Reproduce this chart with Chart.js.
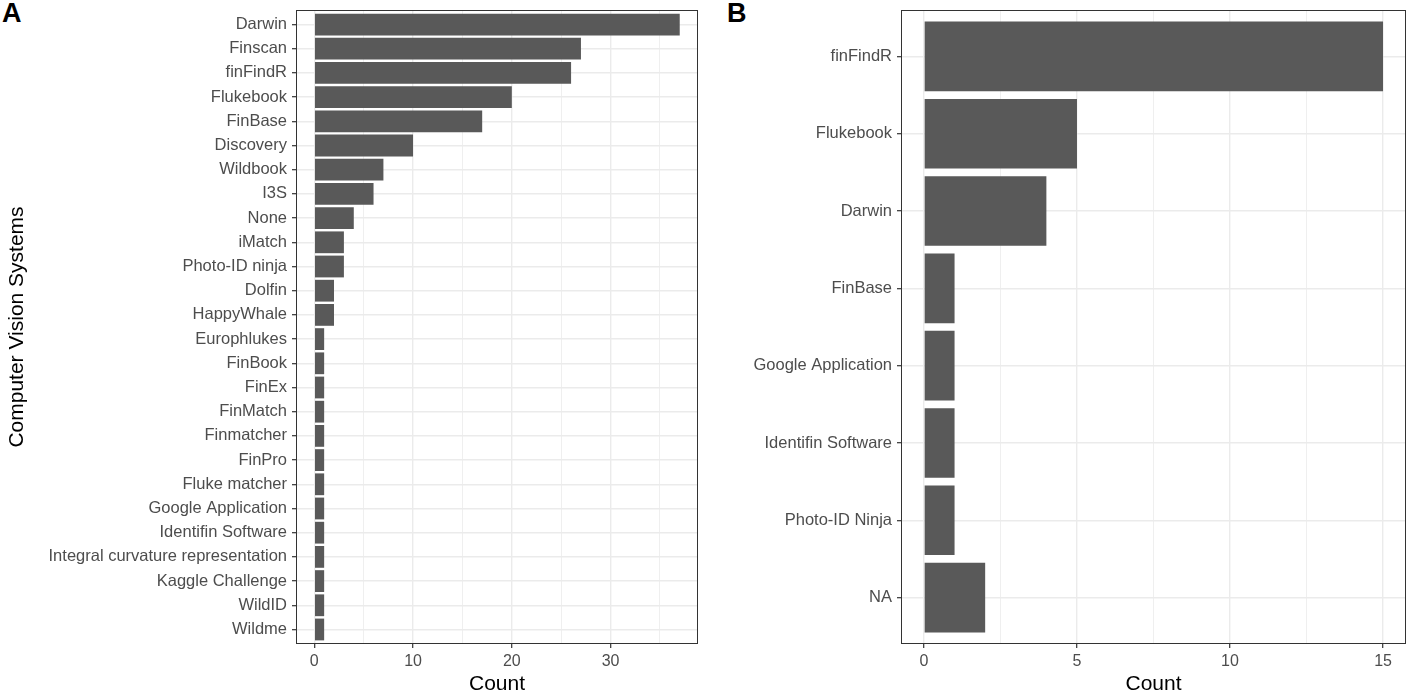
<!DOCTYPE html>
<html>
<head>
<meta charset="utf-8">
<script src="https://cdn.jsdelivr.net/npm/chart.js@4"></script>
<style>
    body { margin: 0; background: #fff; width: 1408px; height: 695px; overflow: hidden; position: relative; }
    .panel { position: absolute; top: 0; height: 695px; }
    #panelA { left: 0; width: 700px; }
    #panelB { left: 700px; width: 708px; }
    .tag { position: absolute; top: 0; font: bold 27px "Liberation Sans", Arial, sans-serif; line-height: 1; color: #000; }
</style>
</head>
<body>
<div class="tag" style="left:2px">A</div>
<div class="tag" style="left:727px">B</div>
<div class="panel" id="panelA"><canvas id="chartA"></canvas></div>
<div class="panel" id="panelB"><canvas id="chartB"></canvas></div>
<script>
// Panel A: all systems mentioned
const systemsA = ['Darwin', 'Finscan', 'finFindR', 'Flukebook', 'FinBase', 'Discovery', 'Wildbook', 'I3S',
    'None', 'iMatch', 'Photo-ID ninja', 'Dolfin', 'HappyWhale', 'Europhlukes', 'FinBook', 'FinEx',
    'FinMatch', 'Finmatcher', 'FinPro', 'Fluke matcher', 'Google Application', 'Identifin Software',
    'Integral curvature representation', 'Kaggle Challenge', 'WildID', 'Wildme'];
const countsA = [37, 27, 26, 20, 17, 10, 7, 6, 4, 3, 3, 2, 2, 1, 1, 1, 1, 1, 1, 1, 1, 1, 1, 1, 1, 1];
const ticksA = [0, 5, 10, 15, 20, 25, 30, 35];
const majorStepA = 10;

// Panel B: systems in use
const systemsB = ['finFindR', 'Flukebook', 'Darwin', 'FinBase', 'Google Application',
    'Identifin Software', 'Photo-ID Ninja', 'NA'];
const countsB = [15, 5, 4, 1, 1, 1, 1, 2];
const ticksB = [0, 2.5, 5, 7.5, 10, 12.5, 15];
const majorStepB = 5;

Chart.defaults.font.family = '"Liberation Sans", Arial, sans-serif';

// panel frame like theme_bw
const frame = {
    id: 'frame',
    afterDraw(chart) {
        const a = chart.chartArea;
        const ctx = chart.ctx;
        ctx.save();
        ctx.strokeStyle = '#333333';
        ctx.lineWidth = 1;
        ctx.strokeRect(Math.round(a.left) + 0.5, Math.round(a.top) + 0.5,
            Math.round(a.right - a.left) - 1, Math.round(a.bottom - a.top) - 1);
        ctx.restore();
    }
};

function makeChart(id, cats, counts, xTicks, majorStep, yWidth, yTitle) {
    const maxVal = Math.max(...counts);
    const pad = maxVal * 0.05;
    const n = cats.length;
    return new Chart(document.getElementById(id), {
        type: 'bar',
        data: {
            datasets: [{
                data: counts.map((v, i) => ({ x: v, y: i })),
                backgroundColor: '#595959',
                borderWidth: 0,
                categoryPercentage: 1,
                barPercentage: 0.9
            }]
        },
        options: {
            indexAxis: 'y',
            responsive: true,
            maintainAspectRatio: false,
            animation: false,
            layout: { padding: { top: 10, right: 2, left: 0, bottom: 0 } },
            plugins: { legend: { display: false }, tooltip: { enabled: false } },
            scales: {
                x: {
                    type: 'linear',
                    min: -pad,
                    max: maxVal + pad,
                    afterBuildTicks: (scale) => { scale.ticks = xTicks.map(v => ({ value: v })); },
                    afterFit: (scale) => {
                        scale.height = 51;
                        scale.paddingLeft = 0;
                        scale.paddingRight = 0;
                    },
                    ticks: {
                        autoSkip: false,
                        maxRotation: 0,
                        color: '#4d4d4d',
                        font: { size: 16 },
                        padding: 4,
                        callback: (v) => (v % majorStep === 0 ? v : '')
                    },
                    grid: {
                        color: '#ebebeb',
                        lineWidth: (c) => (c.tick && c.tick.value % majorStep === 0 ? 1.4 : 0.8),
                        tickColor: (c) => (c.tick && c.tick.value % majorStep === 0 ? '#333333' : 'rgba(0,0,0,0)'),
                        tickLength: 4,
                        tickWidth: 1.2
                    },
                    border: { display: false },
                    title: {
                        display: true,
                        text: 'Count',
                        color: '#000',
                        font: { size: 21, lineHeight: 1 },
                        padding: { top: 0, bottom: 0 }
                    }
                },
                y: {
                    type: 'linear',
                    reverse: true,
                    offset: false,
                    min: -0.6,
                    max: n - 0.4,
                    afterBuildTicks: (scale) => { scale.ticks = cats.map((c, i) => ({ value: i })); },
                    afterFit: (scale) => {
                        scale.width = yWidth;
                        scale.paddingTop = 0;
                        scale.paddingBottom = 0;
                    },
                    ticks: {
                        autoSkip: false,
                        color: '#4d4d4d',
                        font: { size: 16.5 },
                        padding: 5,
                        callback: (v) => cats[v]
                    },
                    grid: {
                        offset: false,
                        color: '#ebebeb',
                        lineWidth: 1.4,
                        tickColor: '#333333',
                        tickLength: 4,
                        tickWidth: 1.2
                    },
                    border: { display: false },
                    title: {
                        display: !!yTitle,
                        text: yTitle || '',
                        color: '#000',
                        font: { size: 21, lineHeight: 1 },
                        padding: { top: 7, bottom: 0 }
                    }
                }
            }
        },
        plugins: [frame]
    });
}

makeChart('chartA', systemsA, countsA, ticksA, majorStepA, 296, 'Computer Vision Systems');
makeChart('chartB', systemsB, countsB, ticksB, majorStepB, 201, null);
</script>
</body>
</html>
